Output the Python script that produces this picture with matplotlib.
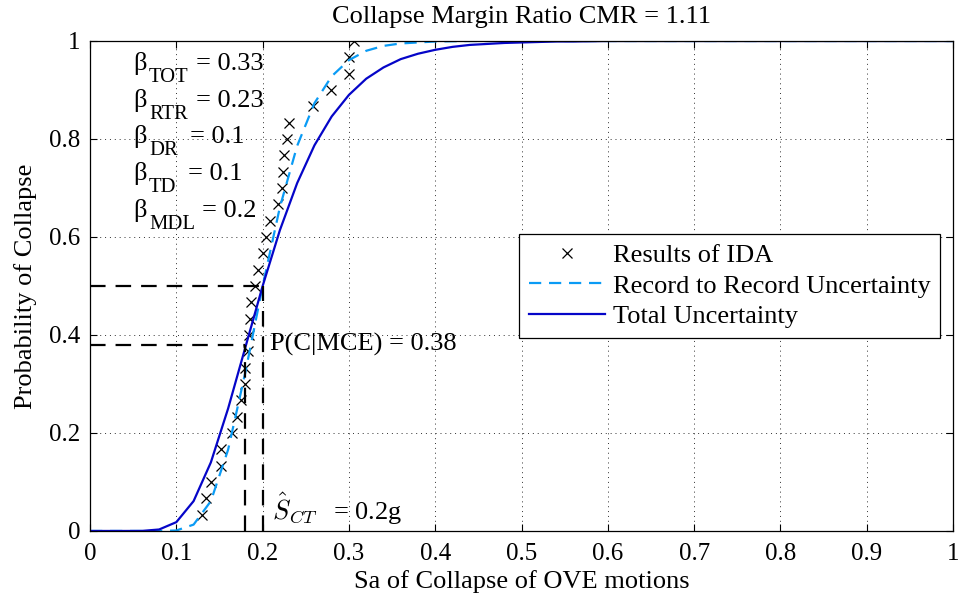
import matplotlib
matplotlib.use("Agg")
import matplotlib.pyplot as plt
from matplotlib.ticker import FormatStrFormatter

plt.rcParams["font.family"] = ["Liberation Serif", "DejaVu Serif"]
plt.rcParams["mathtext.fontset"] = "stix"

# IDA results (Sa at collapse, sorted) and their empirical probability
ida_sa = [0.130, 0.134, 0.140, 0.152, 0.152, 0.165, 0.170, 0.175, 0.180, 0.180,
          0.183, 0.184, 0.185, 0.187, 0.191, 0.195, 0.200, 0.204, 0.208, 0.218,
          0.222, 0.224, 0.225, 0.228, 0.230, 0.258, 0.279, 0.300, 0.300, 0.306]
ida_p = [i / 30 for i in range(1, 31)]

# fitted fragility curves
sa_grid = [0.00, 0.02, 0.04, 0.06, 0.08, 0.10, 0.12, 0.14, 0.16, 0.18, 0.20,
           0.22, 0.24, 0.26, 0.28, 0.30, 0.32, 0.34, 0.36, 0.38, 0.40, 0.42,
           0.44, 0.46, 0.48, 0.50, 0.52, 0.54, 0.56, 0.58, 0.60, 1.00]
p_rtr = [0, 0, 0, 0, 0, 0.001, 0.013, 0.061, 0.166, 0.324, 0.500,
         0.661, 0.786, 0.873, 0.928, 0.961, 0.980, 0.990, 0.995, 0.997, 0.999, 0.9995,
         1, 1, 1, 1, 1, 1, 1, 1, 1, 1]
p_tot = [0, 0, 0, 0.0001, 0.003, 0.018, 0.061, 0.140, 0.250, 0.375, 0.500,
         0.614, 0.710, 0.787, 0.846, 0.890, 0.923, 0.946, 0.963, 0.974, 0.982, 0.988,
         0.992, 0.994, 0.996, 0.997, 0.998, 0.999, 0.999, 0.9995, 1.0, 1.0]

sct = 0.2
sa_mce = 0.18
p_mce = 0.38

beta_names = ["TOT", "RTR", "DR", "TD", "MDL"]
beta_values = ["0.33", "0.23", "0.1", "0.1", "0.2"]

FS = 19
TICK_FS = 18

fig = plt.figure(figsize=(9.58, 6.02), dpi=100)
ax = fig.add_axes([0.094, 0.118, 0.9008, 0.8139])

ax.plot(ida_sa, ida_p, "x", color="k", markersize=7.5, markeredgewidth=0.9,
        label="Results of IDA")
ax.plot(sa_grid, p_rtr, color="#0A9BF5", lw=1.6, dashes=(5.5, 3.5),
        label="Record to Record Uncertainty")
ax.plot(sa_grid, p_tot, color="#0505C8", lw=1.6, label="Total Uncertainty")

dash_kw = dict(color="k", lw=1.6, dashes=(7, 4.5))
ax.plot([0, sct], [0.5, 0.5], **dash_kw)
ax.plot([sct, sct], [0, 0.5], **dash_kw)
ax.plot([0, sa_mce], [p_mce, p_mce], **dash_kw)
ax.plot([sa_mce, sa_mce], [0, p_mce], **dash_kw)

ax.set_xlim(0, 1)
ax.set_ylim(0, 1)
ax.set_xticks([i / 10 for i in range(11)])
ax.set_yticks([i / 5 for i in range(6)])
ax.xaxis.set_major_formatter(FormatStrFormatter("%g"))
ax.yaxis.set_major_formatter(FormatStrFormatter("%g"))
ax.tick_params(direction="in", length=5, width=0.8, top=True, right=True,
               labelsize=TICK_FS)
ax.tick_params(axis="x", pad=9)
ax.tick_params(axis="y", pad=7)
ax.grid(True, color="#303030", lw=0.7, linestyle=(0, (1, 4)))
for s in ax.spines.values():
    s.set_linewidth(0.9)

ax.set_title("Collapse Margin Ratio CMR = 1.11", fontsize=FS, pad=13)
ax.set_xlabel("Sa of Collapse of OVE motions", fontsize=FS, labelpad=3)
ax.set_ylabel("Probability of Collapse", fontsize=FS, labelpad=9)

# beta annotations: symbol, lowered subscript, then "= value"
ys = [0.941, 0.865, 0.791, 0.716, 0.641]
eq_x = [0.1228, 0.1228, 0.1159, 0.1136, 0.1298]
for name, val, y, xe in zip(beta_names, beta_values, ys, eq_x):
    ax.text(0.0498, y, "β", fontsize=FS, va="baseline", ha="left")
    ax.text(0.0684, y - 0.024, name, fontsize=FS * 0.78, va="baseline", ha="left")
    ax.text(xe, y, "= " + val, fontsize=FS, va="baseline", ha="left")

ax.text(0.208, 0.38, "P(C|MCE) = 0.38", fontsize=FS, va="center", ha="left")
ax.text(0.211, 0.045, r"$\hat{S}_{CT}\ \,$ = 0.2g", fontsize=FS, va="center",
        ha="left", math_fontfamily="cm")

leg = ax.legend(loc="upper right", bbox_to_anchor=(0.985, 0.606), fontsize=FS,
                handlelength=2.9, handletextpad=0.3, labelspacing=0.28,
                borderpad=0.35, borderaxespad=0, fancybox=False, framealpha=1,
                edgecolor="k")
leg.get_frame().set_linewidth(0.9)

fig.savefig("out.png", dpi=100)
